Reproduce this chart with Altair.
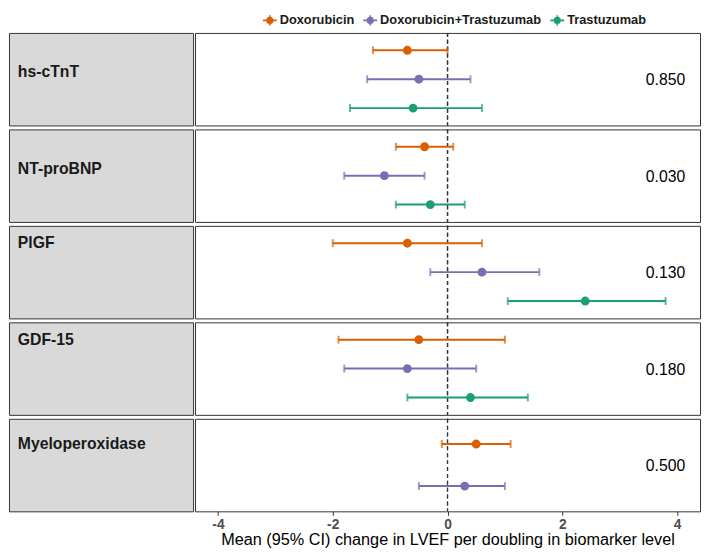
import altair as alt
import pandas as pd

# ---- data ----
biomarkers = ["hs-cTnT", "NT-proBNP", "PlGF", "GDF-15", "Myeloperoxidase"]
treatments = ["Doxorubicin", "Doxorubicin+Trastuzumab", "Trastuzumab"]
colors = ["#D95F02", "#7570B3", "#1B9E77"]

row_biomarker = ["hs-cTnT", "hs-cTnT", "hs-cTnT",
                 "NT-proBNP", "NT-proBNP", "NT-proBNP",
                 "PlGF", "PlGF", "PlGF",
                 "GDF-15", "GDF-15", "GDF-15",
                 "Myeloperoxidase", "Myeloperoxidase"]
row_treatment = ["Doxorubicin", "Doxorubicin+Trastuzumab", "Trastuzumab",
                 "Doxorubicin", "Doxorubicin+Trastuzumab", "Trastuzumab",
                 "Doxorubicin", "Doxorubicin+Trastuzumab", "Trastuzumab",
                 "Doxorubicin", "Doxorubicin+Trastuzumab", "Trastuzumab",
                 "Doxorubicin", "Doxorubicin+Trastuzumab"]
estimate = [-0.7, -0.5, -0.6,
            -0.4, -1.1, -0.3,
            -0.7, 0.6, 2.4,
            -0.5, -0.7, 0.4,
            0.5, 0.3]
ci_low = [-1.3, -1.4, -1.7,
          -0.9, -1.8, -0.9,
          -2.0, -0.3, 1.05,
          -1.9, -1.8, -0.7,
          -0.1, -0.5]
ci_high = [0.0, 0.4, 0.6,
           0.1, -0.4, 0.3,
           0.6, 1.6, 3.8,
           1.0, 0.5, 1.4,
           1.1, 1.0]
p_values = [0.850, 0.030, 0.130, 0.180, 0.500]
# treatment row each biomarker label lines up with in the left panel
label_anchor = ["Doxorubicin+Trastuzumab", "Doxorubicin+Trastuzumab",
                "Doxorubicin", "Doxorubicin", "Doxorubicin"]

x_ticks = [-4, -2, 0, 2, 4]
x_title = "Mean (95% CI) change in LVEF per doubling in biomarker level"

df = pd.DataFrame({
    "biomarker": row_biomarker,
    "treatment": row_treatment,
    "estimate": estimate,
    "ci_low": ci_low,
    "ci_high": ci_high,
})

FONT = "Liberation Sans"
LEFT_W, RIGHT_W, ROW_H = 187, 513, 94
BORDER = "#333333"

color_scale = alt.Scale(domain=treatments, range=colors)
stroke_scale = alt.Scale(domain=treatments, range=colors)
x_scale = alt.Scale(domain=[-4.4, 4.4], nice=False, zero=False)

legend_symbol = ("M-1,0L1,0M0,-0.75L0,0.75"
                 "M0.4,0A0.4,0.4,0,1,1,-0.4,0A0.4,0.4,0,1,1,0.4,0Z")
legend = alt.Legend(
    title="", orient="none", direction="horizontal",
    legendX=257, legendY=-21,
    symbolType=legend_symbol, symbolOpacity=1,
    symbolSize=200, symbolStrokeWidth=1.6, labelFont=FONT,
    labelFontSize=13, labelFontWeight="bold", labelColor="#1A1A1A",
    labelOffset=2, columnPadding=5, labelLimit=400)

rows = []
for i, bm in enumerate(biomarkers):
    sub = df[df["biomarker"] == bm]
    present = set(sub["treatment"])
    dom = [t for t in treatments if t in present]
    last = i == len(biomarkers) - 1
    y_enc = alt.Y("treatment:N",
                  scale=alt.Scale(type="point", domain=dom, padding=0.6),
                  axis=None)
    if last:
        x_axis = alt.Axis(values=x_ticks, title=x_title, domain=False,
                          grid=False, tickSize=4, tickColor=BORDER,
                          labelExpr="'' + datum.value",
                          labelFont=FONT, labelFontSize=14,
                          labelFontWeight="bold", labelColor="#4D4D4D",
                          labelPadding=2, titleFont=FONT, titleFontSize=16.5,
                          titleFontWeight="normal", titleColor="#000000",
                          titlePadding=1)
    else:
        x_axis = None

    color_enc = alt.Color("treatment:N", scale=color_scale, legend=legend)

    base = alt.Chart(sub)
    zero_line = base.mark_rule(strokeDash=[4, 3], color=BORDER,
                               strokeWidth=1.2).encode(
        x=alt.datum(0, scale=x_scale, axis=x_axis))
    bars = base.mark_rule(strokeWidth=2).encode(
        x=alt.X("ci_low:Q", scale=x_scale, axis=x_axis),
        x2="ci_high:Q",
        y=y_enc,
        color=color_enc)
    cap_lo = base.mark_tick(thickness=2, size=8).encode(
        x="ci_low:Q", y=y_enc, color=color_enc)
    cap_hi = base.mark_tick(thickness=2, size=8).encode(
        x="ci_high:Q", y=y_enc, color=color_enc)
    points = base.mark_point(size=55, opacity=1, filled=True,
                             strokeWidth=1.6).encode(
        x="estimate:Q", y=y_enc,
        color=color_enc,
        stroke=alt.Stroke("treatment:N", scale=stroke_scale, legend=legend))

    pdf = pd.DataFrame({"biomarker": [bm], "p": [p_values[i]]})
    ptext = alt.Chart(pdf).mark_text(
        align="right", baseline="middle", font=FONT, fontSize=16,
        color="#000000").encode(
        x=alt.value(RIGHT_W - 15), y=alt.value(ROW_H / 2 + 1),
        text=alt.Text("p:Q", format=".3f"))

    right = alt.layer(zero_line, bars, cap_lo, cap_hi, points, ptext).properties(
        width=RIGHT_W, height=ROW_H,
        view=alt.ViewBackground(fill="white", stroke=BORDER, strokeWidth=1))

    ldf = pd.DataFrame({"biomarker": [bm], "anchor": [label_anchor[i]]})
    above = label_anchor[i] != "Doxorubicin"
    left = alt.Chart(ldf).mark_text(
        align="left", baseline="middle", dy=-7 if above else 0,
        font=FONT, fontSize=16, fontWeight="bold", color="#1A1A1A").encode(
        x=alt.value(9),
        y=alt.Y("anchor:N",
                scale=alt.Scale(type="point", domain=dom, padding=0.6),
                axis=None),
        text="biomarker:N").properties(
        width=LEFT_W, height=ROW_H,
        view=alt.ViewBackground(fill="#D9D9D9", stroke=BORDER, strokeWidth=1))

    rows.append(alt.hconcat(left, right, spacing=0))

chart = alt.vconcat(*rows, spacing=0).resolve_scale(
    y="independent", x="shared", color="shared", stroke="shared").properties(
    padding=0).configure_view(stroke=BORDER)

chart.save("out.html", embed_options={"renderer": "svg", "actions": False})
